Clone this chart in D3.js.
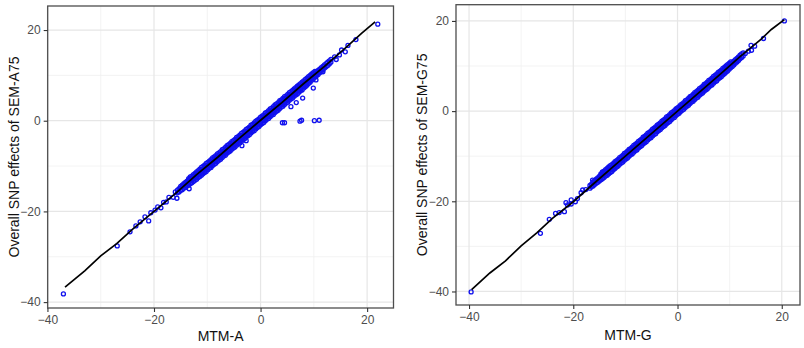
<!DOCTYPE html>
<head>
<meta charset="utf-8">
<script src="https://d3js.org/d3.v7.min.js"></script>
<style>
  body { margin: 0; background: #fff; }
  text { font-family: "Liberation Sans", Arial, sans-serif; }
</style>
</head>
<body>
<svg width="804" height="348"></svg>
<script>
// tick values shared by both panels
var majorTicks = [-40, -20, 0, 20];
var minorTicks = [-30, -10, 10];

// left panel (MTM-A vs SEM-A75): dense band, one row per MTM-A value -> SEM values
var bandRowsA = [
[-15.6,-15.9,-15.3],[-15.3,-15.7,-15.0],[-15.0,-15.4,-14.8,-14.5],[-14.7,-15.2,-14.6,-14.2],
[-14.4,-14.9,-14.3,-13.9],[-14.1,-14.7,-14.0,-13.6],[-13.8,-14.4,-13.8,-13.3],
[-13.5,-14.2,-13.6,-13.1,-12.8],[-13.2,-13.9,-13.3,-12.8,-12.4],[-12.9,-13.7,-13.1,-12.6,-12.2],
[-12.6,-13.4,-12.8,-12.3,-11.9],[-12.3,-13.1,-12.6,-12.0,-11.6],[-12.0,-12.9,-12.3,-11.8,-11.3],
[-11.7,-12.5,-12.0,-11.5,-11.0],[-11.4,-12.3,-11.7,-11.2,-10.7],[-11.1,-12.0,-11.4,-10.9,-10.3],
[-10.8,-11.7,-11.2,-10.6,-10.1],[-10.5,-11.4,-10.9,-10.3,-9.8],[-10.2,-11.2,-10.6,-10.0,-9.4],
[-9.9,-10.8,-10.3,-9.7,-9.2],[-9.6,-10.5,-10.0,-9.4,-8.9],[-9.3,-10.3,-9.7,-9.1,-8.6],
[-9.0,-9.9,-9.4,-8.8,-8.2],[-8.7,-9.6,-9.1,-8.5,-8.0],[-8.4,-9.4,-8.8,-8.2,-7.7],
[-8.1,-9.0,-8.5,-7.9,-7.3],[-7.8,-8.7,-8.2,-7.6,-7.1],[-7.5,-8.5,-7.9,-7.3,-6.8],
[-7.2,-8.1,-7.6,-7.0,-6.4],[-6.9,-7.8,-7.3,-6.7,-6.2],[-6.6,-7.6,-7.0,-6.4,-5.9],
[-6.3,-7.2,-6.7,-6.1,-5.5],[-6.0,-6.9,-6.4,-5.8,-5.3],[-5.7,-6.7,-6.1,-5.5,-5.0],
[-5.4,-6.3,-5.8,-5.2,-4.6],[-5.1,-6.0,-5.5,-4.9,-4.4],[-4.8,-5.8,-5.2,-4.6,-4.1],
[-4.5,-5.4,-4.9,-4.3,-3.7],[-4.2,-5.1,-4.6,-4.0,-3.5],[-3.9,-4.9,-4.3,-3.7,-3.2],
[-3.6,-4.5,-4.0,-3.4,-2.8],[-3.3,-4.2,-3.7,-3.1,-2.6],[-3.0,-4.0,-3.4,-2.8,-2.3],
[-2.7,-3.6,-3.1,-2.5,-1.9],[-2.4,-3.3,-2.8,-2.2,-1.7],[-2.1,-3.1,-2.5,-1.9,-1.4],
[-1.8,-2.7,-2.2,-1.6,-1.0],[-1.5,-2.4,-1.9,-1.3,-0.8],[-1.2,-2.2,-1.6,-1.0,-0.5],
[-0.9,-1.8,-1.3,-0.7,-0.1],[-0.6,-1.5,-1.0,-0.4,0.1],[-0.3,-1.3,-0.7,-0.1,0.4],
[0.0,-0.9,-0.4,0.2,0.8],[0.3,-0.6,-0.1,0.5,1.0],[0.6,-0.4,0.2,0.8,1.3],
[0.9,0.0,0.5,1.1,1.7],[1.2,0.3,0.8,1.4,1.9],[1.5,0.5,1.1,1.7,2.2],
[1.8,0.9,1.4,2.0,2.6],[2.1,1.2,1.7,2.3,2.8],[2.4,1.4,2.0,2.6,3.1],
[2.7,1.8,2.3,2.9,3.5],[3.0,2.1,2.6,3.2,3.7],[3.3,2.3,2.9,3.5,4.0],
[3.6,2.7,3.2,3.8,4.4],[3.9,3.0,3.5,4.1,4.6],[4.2,3.2,3.8,4.4,4.9],
[4.5,3.6,4.1,4.7,5.3],[4.8,3.9,4.4,5.0,5.5],[5.1,4.1,4.7,5.3,5.8],
[5.4,4.5,5.0,5.6,6.2],[5.7,4.8,5.3,5.9,6.4],[6.0,5.0,5.6,6.2,6.7],
[6.3,5.4,5.9,6.5,7.0],[6.6,5.7,6.2,6.8,7.3],[6.9,5.9,6.5,7.1,7.6],
[7.2,6.3,6.8,7.4,7.9],[7.5,6.6,7.1,7.7,8.2],[7.8,6.8,7.4,8.0,8.5],
[8.1,7.2,7.7,8.3,8.8],[8.4,7.5,8.0,8.6,9.1],[8.7,7.8,8.4,8.9,9.4],
[9.0,8.2,8.7,9.2,9.7],[9.3,8.5,9.0,9.5,10.0],[9.6,8.9,9.4,9.9,10.3],
[9.9,9.2,9.7,10.2,10.6],[10.2,9.6,10.0,10.5,10.9],[10.5,9.9,10.4,10.8],
[10.8,10.2,10.7,11.1],[11.1,10.6,11.0,11.4],[11.4,10.9,11.3,11.7],
[11.7,11.2,11.6,12.0],[12.0,11.6,12.0,12.3],[12.3,11.9,12.6],
[12.6,12.2,12.9],[12.9,12.5,13.2],[13.2,12.9,13.5]
];
// left panel: scattered SNPs in the tails and off the diagonal
var sparseA = [
[-37.0,-38.2],[-26.9,-27.6],[-24.5,-24.5],[-23.4,-23.2],[-22.6,-22.3],[-21.7,-21.2],
[-21.0,-22.1],[-20.6,-20.3],[-19.8,-19.7],[-19.3,-19.0],[-18.7,-19.2],[-18.2,-18.0],
[-17.7,-17.9],[-17.2,-16.9],[-16.4,-16.9],[-16.0,-15.7],[-15.7,-17.1],[-13.4,-15.0],
[-3.5,-5.5],[-2.7,-4.4],[4.1,-0.45],[4.5,-0.45],[5.7,3.1],[6.7,4.0],[7.4,-0.1],
[7.7,0.1],[7.9,5.0],[9.9,7.2],[10.1,0.0],[10.4,9.0],[11.0,0.1],[11.7,10.8],
[13.9,14.1],[14.2,13.5],[14.8,14.5],[15.2,15.6],[15.9,15.2],[16.4,16.6],[17.9,17.9],
[22.0,21.3]
];
// left panel: fitted line
var lineA = [
[-36.7,-36.7],[-33,-33.1],[-30,-29.8],[-27,-27.1],[-24,-23.9],[-20,-20.0],[-16,-16.1],
[-12,-11.9],[-8,-8.0],[-4,-3.9],[0,0.1],[4,4.0],[8,8.1],[12,12.0],[16,16.1],[19,19.3],
[21.5,21.8]
];

// right panel (MTM-G vs SEM-G75)
var bandRowsG = [
[-16.8,-17.1,-16.5],[-16.5,-16.8,-16.2],[-16.2,-16.6,-16.0,-15.7],[-15.9,-16.3,-15.8,-15.4],
[-15.6,-16.0,-15.5,-15.1],[-15.3,-15.8,-15.2,-14.8],[-15.0,-15.5,-14.9,-14.5],
[-14.7,-15.2,-14.7,-14.2,-13.9],[-14.4,-15.0,-14.4,-13.9,-13.6],[-14.1,-14.7,-14.1,-13.6,-13.3],
[-13.8,-14.4,-13.9,-13.4,-13.0],[-13.5,-14.2,-13.6,-13.1,-12.7],[-13.2,-13.9,-13.4,-12.9,-12.4],
[-12.9,-13.6,-13.1,-12.6,-12.1],[-12.6,-13.4,-12.8,-12.3,-11.9],[-12.3,-13.0,-12.5,-12.0,-11.6],
[-12.0,-12.7,-12.2,-11.7,-11.2],[-11.7,-12.4,-11.9,-11.4,-11.0],[-11.4,-12.2,-11.6,-11.1,-10.7],
[-11.1,-11.8,-11.3,-10.8,-10.3],[-10.8,-11.5,-11.0,-10.5,-10.1],[-10.5,-11.3,-10.7,-10.2,-9.8],
[-10.2,-10.9,-10.4,-9.9,-9.4],[-9.9,-10.6,-10.1,-9.6,-9.2],[-9.6,-10.4,-9.8,-9.3,-8.9],
[-9.3,-10.0,-9.5,-9.0,-8.5],[-9.0,-9.7,-9.2,-8.7,-8.3],[-8.7,-9.5,-8.9,-8.4,-8.0],
[-8.4,-9.1,-8.6,-8.1,-7.6],[-8.1,-8.8,-8.3,-7.8,-7.4],[-7.8,-8.6,-8.0,-7.5,-7.1],
[-7.5,-8.2,-7.7,-7.2,-6.7],[-7.2,-7.9,-7.4,-6.9,-6.5],[-6.9,-7.7,-7.1,-6.6,-6.2],
[-6.6,-7.3,-6.8,-6.3,-5.8],[-6.3,-7.0,-6.5,-6.0,-5.6],[-6.0,-6.8,-6.2,-5.7,-5.3],
[-5.7,-6.4,-5.9,-5.4,-4.9],[-5.4,-6.1,-5.6,-5.1,-4.7],[-5.1,-5.9,-5.3,-4.8,-4.4],
[-4.8,-5.5,-5.0,-4.5,-4.0],[-4.5,-5.2,-4.7,-4.2,-3.8],[-4.2,-5.0,-4.4,-3.9,-3.5],
[-3.9,-4.6,-4.1,-3.6,-3.1],[-3.6,-4.3,-3.8,-3.3,-2.9],[-3.3,-4.1,-3.5,-3.0,-2.6],
[-3.0,-3.7,-3.2,-2.7,-2.2],[-2.7,-3.4,-2.9,-2.4,-2.0],[-2.4,-3.2,-2.6,-2.1,-1.7],
[-2.1,-2.8,-2.3,-1.8,-1.3],[-1.8,-2.5,-2.0,-1.5,-1.1],[-1.5,-2.3,-1.7,-1.2,-0.8],
[-1.2,-1.9,-1.4,-0.9,-0.4],[-0.9,-1.6,-1.1,-0.6,-0.2],[-0.6,-1.4,-0.8,-0.3,0.1],
[-0.3,-1.0,-0.5,0.0,0.5],[0.0,-0.7,-0.2,0.3,0.7],[0.3,-0.5,0.1,0.6,1.0],
[0.6,-0.1,0.4,0.9,1.4],[0.9,0.2,0.7,1.2,1.6],[1.2,0.4,1.0,1.5,1.9],
[1.5,0.8,1.3,1.8,2.3],[1.8,1.1,1.6,2.1,2.5],[2.1,1.3,1.9,2.4,2.8],
[2.4,1.7,2.2,2.7,3.2],[2.7,2.0,2.5,3.0,3.4],[3.0,2.2,2.8,3.3,3.7],
[3.3,2.6,3.1,3.6,4.1],[3.6,2.9,3.4,3.9,4.3],[3.9,3.1,3.7,4.2,4.6],
[4.2,3.5,4.0,4.5,5.0],[4.5,3.8,4.3,4.8,5.2],[4.8,4.0,4.6,5.1,5.5],
[5.1,4.4,4.9,5.4,5.9],[5.4,4.7,5.2,5.7,6.1],[5.7,4.9,5.5,6.0,6.4],
[6.0,5.3,5.8,6.3,6.8],[6.3,5.6,6.1,6.6,7.0],[6.6,5.8,6.4,6.9,7.3],
[6.9,6.2,6.7,7.2,7.7],[7.2,6.5,7.0,7.5,7.9],[7.5,6.7,7.3,7.8,8.2],
[7.8,7.1,7.6,8.1,8.6],[8.1,7.4,7.9,8.4,8.8],[8.4,7.6,8.2,8.7,9.1],
[8.7,8.0,8.5,9.0,9.5],[9.0,8.3,8.8,9.3,9.7],[9.3,8.6,9.1,9.6,10.0],
[9.6,8.9,9.4,9.9,10.3],[9.9,9.3,9.7,10.2,10.6],[10.2,9.6,10.0,10.5,10.9],
[10.5,9.9,10.4,10.8],[10.8,10.2,10.7,11.1],[11.1,10.6,11.0,11.4],
[11.4,10.9,11.3,11.7],[11.7,11.2,11.6,12.0],[12.0,11.6,12.4],[12.3,11.9,12.7],[12.6,12.2,12.9]
];
var sparseG = [
[-39.6,-40.1],[-26.3,-27.1],[-24.6,-24.0],[-23.4,-22.7],[-22.7,-22.5],[-21.7,-22.3],
[-21.4,-20.3],[-21.1,-20.8],[-20.4,-20.6],[-20.4,-19.7],[-19.6,-20.1],[-19.2,-19.4],
[-18.5,-18.1],[-18.2,-17.5],[-17.6,-17.4],[-16.3,-15.3],[-14.4,-13.5],[12.3,12.0],
[13.0,12.8],[13.6,13.3],[14.1,14.6],[14.2,13.5],[14.8,14.4],[16.5,16.1],[20.5,20.0]
];
var lineG = [
[-39.5,-39.6],[-36,-35.9],[-33,-33.2],[-30,-29.9],[-27,-27.0],[-24,-23.8],[-20,-20.1],
[-16,-16.0],[-12,-12.0],[-8,-8.0],[-4,-4.0],[0,0.0],[4,4.0],[8,8.0],[12,12.1],
[16,15.9],[18,18.1],[20.5,20.3]
];

var svg = d3.select("svg");

function rowsToPoints(rows) {
  var pts = [];
  rows.forEach(function(r) {
    for (var i = 1; i < r.length; i++) pts.push([r[0], r[i]]);
  });
  return pts;
}

function drawPanel(p) {
  var x = d3.scaleLinear().domain(p.xDomain).range([p.left, p.right]);
  var y = d3.scaleLinear().domain(p.yDomain).range([p.bottom, p.top]);
  var g = svg.append("g");

  // grid (minor then major)
  g.selectAll(".vmin").data(minorTicks).enter().append("line")
    .attr("x1", d => x(d)).attr("x2", d => x(d)).attr("y1", p.top).attr("y2", p.bottom)
    .attr("stroke", "#f0f0f0").attr("stroke-width", 0.8);
  g.selectAll(".hmin").data(minorTicks).enter().append("line")
    .attr("y1", d => y(d)).attr("y2", d => y(d)).attr("x1", p.left).attr("x2", p.right)
    .attr("stroke", "#f0f0f0").attr("stroke-width", 0.8);
  g.selectAll(".vmaj").data(majorTicks).enter().append("line")
    .attr("x1", d => x(d)).attr("x2", d => x(d)).attr("y1", p.top).attr("y2", p.bottom)
    .attr("stroke", "#e6e6e6").attr("stroke-width", 1.2);
  g.selectAll(".hmaj").data(majorTicks).enter().append("line")
    .attr("y1", d => y(d)).attr("y2", d => y(d)).attr("x1", p.left).attr("x2", p.right)
    .attr("stroke", "#e6e6e6").attr("stroke-width", 1.2);

  // points
  g.selectAll(".pt").data(rowsToPoints(p.band).concat(p.sparse)).enter().append("circle")
    .attr("cx", d => x(d[0])).attr("cy", d => y(d[1])).attr("r", 2)
    .attr("fill", "none").attr("stroke", "#1010ee").attr("stroke-width", 1.3);

  // fitted line
  g.append("path").datum(p.line)
    .attr("d", d3.line().x(d => x(d[0])).y(d => y(d[1])))
    .attr("fill", "none").attr("stroke", "#000").attr("stroke-width", 1.7);

  // border
  g.append("rect").attr("x", p.left).attr("y", p.top)
    .attr("width", p.right - p.left).attr("height", p.bottom - p.top)
    .attr("fill", "none").attr("stroke", "#4d4d4d").attr("stroke-width", 1.3);

  var xa = g.append("g").attr("transform", "translate(0," + p.bottom + ")")
    .call(d3.axisBottom(x).tickValues(majorTicks).tickSize(4).tickPadding(3));
  var ya = g.append("g").attr("transform", "translate(" + p.left + ",0)")
    .call(d3.axisLeft(y).tickValues(majorTicks).tickSize(4).tickPadding(3));
  [xa, ya].forEach(function(a) {
    a.select(".domain").remove();
    a.selectAll("line").attr("stroke", "#333").attr("stroke-width", 1.1);
    a.selectAll("text").attr("fill", "#4d4d4d").style("font-size", "12px")
      .style("font-family", "'Liberation Sans', Arial, sans-serif");
  });

  g.append("text").attr("x", (p.left + p.right) / 2).attr("y", p.xTitleY)
    .attr("text-anchor", "middle").style("font-size", "14px").attr("fill", "#111")
    .text(p.xTitle);
  g.append("text")
    .attr("transform", "translate(" + p.yTitleX + "," + (p.top + p.bottom) / 2 + ") rotate(-90)")
    .attr("text-anchor", "middle").attr("dy", "0.35em")
    .style("font-size", "14px").attr("fill", "#111")
    .text(p.yTitle);
}

drawPanel({
  left: 47.7, right: 393.5, top: 6, bottom: 308,
  xDomain: [-39.95, 24.95], yDomain: [-41.3, 25.3],
  band: bandRowsA, sparse: sparseA, line: lineA,
  xTitle: "MTM-A", yTitle: "Overall SNP effects of SEM-A75",
  xTitleY: 341, yTitleX: 14
});
drawPanel({
  left: 456, right: 800, top: 4.7, bottom: 305,
  xDomain: [-42.5, 23.5], yDomain: [-43, 23.6],
  band: bandRowsG, sparse: sparseG, line: lineG,
  xTitle: "MTM-G", yTitle: "Overall SNP effects of SEM-G75",
  xTitleY: 340, yTitleX: 422.5
});
</script>
</body>
